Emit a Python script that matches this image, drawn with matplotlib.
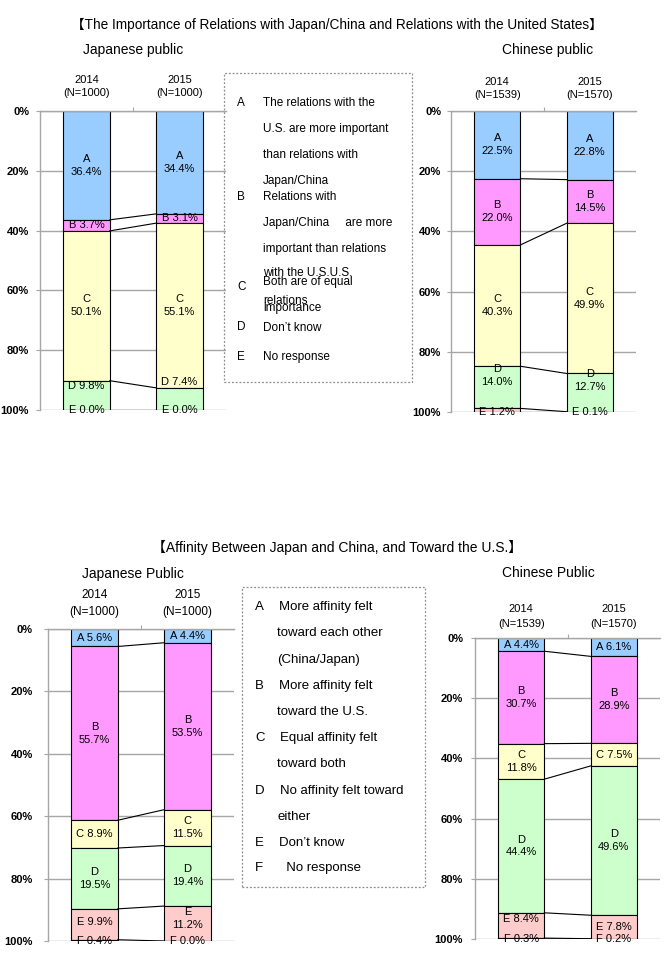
import matplotlib
matplotlib.use('Agg')
import matplotlib.pyplot as plt
from matplotlib.patches import Rectangle
import numpy as np

plt.rcParams['font.family'] = ['Liberation Sans', 'Noto Sans CJK JP', 'DejaVu Sans']

# ---------------- data ----------------
years = ['2014', '2015']

rel_cats = ['A', 'B', 'C', 'D', 'E']
jp_rel_2014 = [36.4, 3.7, 50.1, 9.8, 0.0]
jp_rel_2015 = [34.4, 3.1, 55.1, 7.4, 0.0]
jp_rel_n = ['N=1000', 'N=1000']
cn_rel_2014 = [22.5, 22.0, 40.3, 14.0, 1.2]
cn_rel_2015 = [22.8, 14.5, 49.9, 12.7, 0.1]
cn_rel_n = ['N=1539', 'N=1570']

aff_cats = ['A', 'B', 'C', 'D', 'E', 'F']
jp_aff_2014 = [5.6, 55.7, 8.9, 19.5, 9.9, 0.4]
jp_aff_2015 = [4.4, 53.5, 11.5, 19.4, 11.2, 0.0]
jp_aff_n = ['N=1000', 'N=1000']
cn_aff_2014 = [4.4, 30.7, 11.8, 44.4, 8.4, 0.3]
cn_aff_2015 = [6.1, 28.9, 7.5, 49.6, 7.8, 0.2]
cn_aff_n = ['N=1539', 'N=1570']

title_top = '【The Importance of Relations with Japan/China and Relations with the United States】'
title_bot = '【Affinity Between Japan and China, and Toward the U.S.】'

legend_top = [
    ('A', 'The relations with the'), ('', 'U.S. are more important'),
    ('', 'than relations with'), ('', 'Japan/China'),
    ('B', 'Relations with'), ('', 'Japan/China     are more'),
    ('', 'important than relations'), ('', 'with the U.S.U.S.'),
    ('C', 'Both are of equal'), ('', 'relations'), ('', 'importance'),
    ('D', 'Don’t know'), ('E', 'No response'),
]
legend_bot = [
    ('A', 'More affinity felt'), ('', 'toward each other'), ('', '(China/Japan)'),
    ('B', 'More affinity felt'), ('', 'toward the U.S.'),
    ('C', 'Equal affinity felt'), ('', 'toward both'),
    ('D', 'No affinity felt toward'), ('', 'either'),
    ('E', 'Don’t know'), ('F', '  No response'),
]

# ---------------- style ----------------
W, H = 670, 959
fig = plt.figure(figsize=(W / 100, H / 100), dpi=100)
colors = ['#99CCFF', '#FF99FF', '#FFFFCC', '#CCFFCC', '#FFCCCC', '#C0C0C0']
grid_c = '#A6A6A6'


def px_axes(x0, y0, x1, y1):
    return fig.add_axes([x0 / W, 1 - y1 / H, (x1 - x0) / W, (y1 - y0) / H])


def ftext(x, y, s, **kw):
    fig.text(x / W, 1 - y / H, s, **kw)


def panel(rect, cats, v14, v15, ns, cols, overrides, singles, tickpad,
          year_y, n_y, year_fs):
    ax = px_axes(*rect)
    ax.set_xlim(-0.5, 1.5)
    ax.set_ylim(100, 0)
    ax.set_yticks([0, 20, 40, 60, 80, 100])
    ax.set_yticklabels([f'{t}%' for t in [0, 20, 40, 60, 80, 100]],
                       fontweight='bold', fontsize=8)
    ax.yaxis.grid(True, color=grid_c, lw=1)
    ax.set_axisbelow(True)
    for s in ['right', 'bottom']:
        ax.spines[s].set_visible(False)
    for s in ['left', 'top']:
        ax.spines[s].set_color(grid_c)
        ax.spines[s].set_linewidth(1)
    ax.xaxis.tick_top()
    ax.set_xticks([0.5])
    ax.set_xticklabels([''])
    ax.tick_params(axis='x', direction='out', length=3, color=grid_c)
    ax.tick_params(axis='y', direction='out', length=3, color=grid_c, pad=tickpad)

    cums = []
    for i, vals in enumerate([v14, v15]):
        vals = np.array(vals)
        bottoms = np.concatenate([[0], np.cumsum(vals)[:-1]])
        cums.append(np.concatenate([[0], np.cumsum(vals)]))
        ax.bar([i] * len(vals), vals, bottom=bottoms, width=0.5,
               color=cols[:len(vals)], edgecolor='black', lw=0.8, zorder=2)
        for j, (c, v) in enumerate(zip(cats, vals)):
            y = overrides.get((i, j), bottoms[j] + v / 2)
            if (i, j) in singles:
                s = f'{c} {v:.1f}%'
            else:
                s = f'{c}\n{v:.1f}%'
            ax.text(i, y, s, ha='center', va='center', fontsize=8,
                    linespacing=1.35, zorder=4)
    for k in range(1, len(cats) + 1):
        ax.plot([0.25, 0.75], [cums[0][k], cums[1][k]], color='black',
                lw=0.8, zorder=3)
    # year labels
    x0, y0, x1, y1 = rect
    cw = (x1 - x0) / 2
    for i in range(2):
        cx = x0 + cw * (i + 0.5)
        ftext(cx, year_y, years[i], ha='center', va='center', fontsize=year_fs)
        ftext(cx, n_y, f'({ns[i]})', ha='center', va='center', fontsize=year_fs)
    return ax


# ---- top panels ----
panel((40, 111, 226, 410), rel_cats, jp_rel_2014, jp_rel_2015, jp_rel_n, colors,
      {(0, 3): 92.0, (0, 4): 100, (1, 3): 90.6, (1, 4): 100},
      {(0, 1), (1, 1), (0, 3), (1, 3), (0, 4), (1, 4)}, 4.9, 80, 93, 8)
panel((451, 111, 636, 412), rel_cats, cn_rel_2014, cn_rel_2015, cn_rel_n, colors,
      {(0, 3): 88.0, (0, 4): 100, (1, 3): 89.5, (1, 4): 100},
      {(0, 4), (1, 4)}, 4.2, 82, 95, 8)

# ---- bottom panels ----
panel((48, 629, 234, 941), aff_cats, jp_aff_2014, jp_aff_2015, jp_aff_n, colors,
      {(0, 4): 94.0, (0, 5): 100, (1, 4): 92.7, (1, 5): 100},
      {(0, 0), (1, 0), (0, 2), (0, 4), (0, 5), (1, 5)}, 8.0, 595, 612, 8.5)
panel((475, 638, 660, 939), aff_cats, cn_aff_2014, cn_aff_2015, cn_aff_n, colors,
      {(0, 4): 93.4, (0, 5): 100, (1, 5): 100},
      {(0, 0), (1, 0), (1, 2), (0, 4), (1, 4), (0, 5), (1, 5)}, 5.6, 609, 624, 8)

# ---- titles ----
ftext(337, 25, title_top, ha='center', va='center', fontsize=9.8)
ftext(83, 50, 'Japanese public', ha='left', va='center', fontsize=10)
ftext(502, 50, 'Chinese public', ha='left', va='center', fontsize=10)
ftext(337, 547, title_bot, ha='center', va='center', fontsize=10)
ftext(82, 574, 'Japanese Public', ha='left', va='center', fontsize=10)
ftext(502, 573, 'Chinese Public', ha='left', va='center', fontsize=10)

# ---- legend boxes ----
def dashed_box(x0, y0, x1, y1):
    r = Rectangle((x0 / W, 1 - y1 / H), (x1 - x0) / W, (y1 - y0) / H,
                  transform=fig.transFigure, fill=False, edgecolor='#8C8C8C',
                  lw=0.9, linestyle=(0, (1.5, 1.5)))
    fig.add_artist(r)

dashed_box(224, 73, 412, 382)
top_y = [103, 129, 155, 181, 197, 223, 249, 273, 282, 301, 308, 328, 357]
top_ly = {0: 103, 4: 197, 8: 287, 11: 327, 12: 357}
for k, ((letter, txt), y) in enumerate(zip(legend_top, top_y)):
    if letter:
        ftext(237, top_ly[k], letter, ha='left', va='center', fontsize=8.5)
    ftext(263, y, txt, ha='left', va='center', fontsize=8.5)

dashed_box(242, 587, 425, 887)
bot_y = [607, 633, 660, 686, 712, 738, 764, 791, 817, 843, 868]
bot_x = [279, 277, 277, 279, 277, 280, 277, 280, 277, 279, 279]
for (letter, txt), y, x in zip(legend_bot, bot_y, bot_x):
    if letter:
        ftext(255, y, letter, ha='left', va='center', fontsize=9.5)
    ftext(x, y, txt, ha='left', va='center', fontsize=9.5)

fig.savefig('out.png', dpi=100)
